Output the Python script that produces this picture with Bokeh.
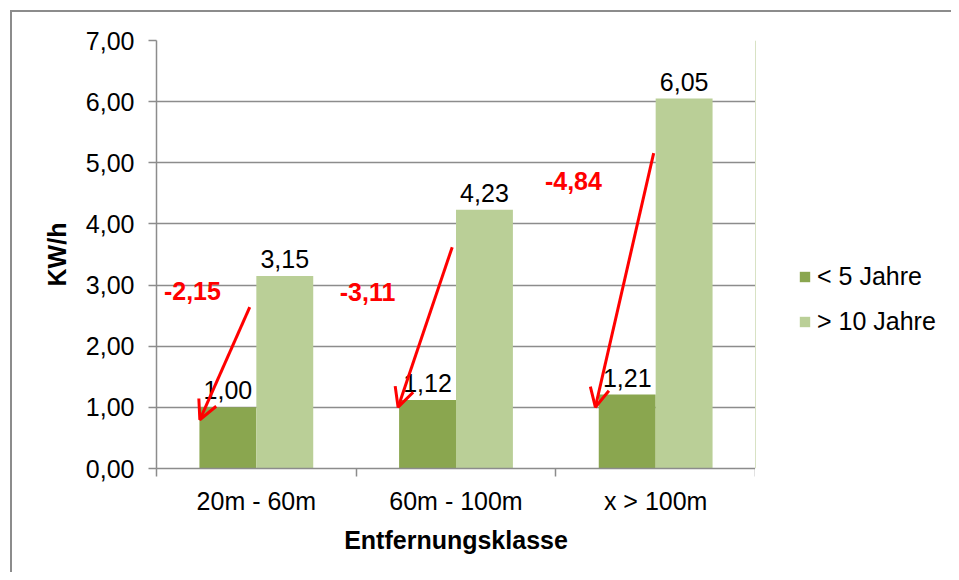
from bokeh.plotting import figure
from bokeh.layouts import row
from bokeh.models import (FixedTicker, CustomJSTickFormatter, Legend, LegendItem,
                          Arrow, OpenHead, ColumnDataSource, Range1d, InlineStyleSheet)
from bokeh.core.properties import value
from bokeh.embed import file_html
from bokeh.resources import INLINE

# ---------------- data ----------------
categories = ["20m - 60m", "60m - 100m", "x > 100m"]
series_names = ["< 5 Jahre", "> 10 Jahre"]
young = [1.00, 1.12, 1.21]      # < 5 Jahre
old = [3.15, 4.23, 6.05]        # > 10 Jahre
y_ticks = [0, 1, 2, 3, 4, 5, 6, 7]
x_title = "Entfernungsklasse"
y_title = "KW/h"

# red annotation arrows (data coordinates)
arrow_x_start = [0.467, 1.481, 2.490]
arrow_y_start = [2.638, 3.620, 5.157]
arrow_x_end = [0.217, 1.210, 2.198]
arrow_y_end = [0.797, 1.003, 1.003]
diff_x = [0.180, 1.057, 2.088]
diff_y = [2.895, 2.880, 4.694]

# ---------------- style ----------------
FONT = "Liberation Sans"
FS = "25px"
DARK = "#8aa64f"
LIGHT = "#bacf97"
GRID = "#8c8c8c"
W_MAIN, W_LEG, H = 755, 196, 572

def fmt(v):
    return f"{v:.2f}".replace(".", ",")

n = len(categories)
centers = [i + 0.5 for i in range(n)]
bw = 0.285

p = figure(width=W_MAIN, height=H, output_backend="svg", toolbar_location=None,
           x_range=Range1d(0, n), y_range=Range1d(0, 7),
           min_border_left=156, min_border_right=0, min_border_top=40,
           min_border_bottom=104)
p.outline_line_color = None
p.background_fill_color = "white"
p.border_fill_color = "white"

src_y = ColumnDataSource(dict(x=[c - bw / 2 for c in centers], top=young,
                              lab=[fmt(v) for v in young]))
src_o = ColumnDataSource(dict(x=[c + bw / 2 for c in centers], top=old,
                              lab=[fmt(v) for v in old]))

p.vbar(x="x", top="top", width=bw, source=src_y, fill_color=DARK, line_color=None)
p.vbar(x="x", top="top", width=bw, source=src_o, fill_color=LIGHT, line_color=None)

for s in (src_y, src_o):
    p.text(x="x", y="top", text="lab", source=s, text_align="center",
           text_baseline="alphabetic", y_offset=-17, text_font=value(FONT),
           text_font_size=FS, text_color="black")

# grid
p.xgrid.visible = False
p.ygrid.ticker = FixedTicker(ticks=y_ticks)
p.ygrid.grid_line_color = GRID
p.ygrid.grid_line_width = 1.5

# y axis
ya = p.yaxis[0]
ya.ticker = FixedTicker(ticks=y_ticks)
ya.formatter = CustomJSTickFormatter(code="return tick.toFixed(2).replace('.', ',');")
ya.axis_line_color = GRID
ya.axis_line_width = 1.5
ya.major_tick_line_color = GRID
ya.major_tick_line_width = 1.5
ya.major_tick_in = 0
ya.major_tick_out = 8
ya.minor_tick_line_color = None
ya.major_label_text_font = FONT
ya.major_label_text_font_size = FS
ya.major_label_text_color = "black"
ya.major_label_standoff = 14
ya.axis_label = y_title
ya.axis_label_text_font = FONT
ya.axis_label_text_font_size = FS
ya.axis_label_text_font_style = "bold"
ya.axis_label_text_color = "black"
ya.axis_label_standoff = 12

# x axis: labels at centers, ticks at boundaries (minor ticks)
xa = p.xaxis[0]
xa.ticker = FixedTicker(ticks=centers, minor_ticks=list(range(n + 1)))
xa.major_label_overrides = {c: categories[i] for i, c in enumerate(centers)}
xa.axis_line_color = GRID
xa.axis_line_width = 1.5
xa.major_tick_line_color = None
xa.minor_tick_line_color = GRID
xa.minor_tick_line_width = 1.5
xa.minor_tick_in = 0
xa.minor_tick_out = 8
xa.major_label_text_font = FONT
xa.major_label_text_font_size = FS
xa.major_label_text_color = "black"
xa.major_label_standoff = 10
xa.axis_label = x_title
xa.axis_label_text_font = FONT
xa.axis_label_text_font_size = FS
xa.axis_label_text_font_style = "bold"
xa.axis_label_text_color = "black"
xa.axis_label_standoff = 8

# red arrows and differences
for i in range(n):
    p.add_layout(Arrow(end=OpenHead(size=19, line_color="red", line_width=3),
                       x_start=arrow_x_start[i], y_start=arrow_y_start[i],
                       x_end=arrow_x_end[i], y_end=arrow_y_end[i],
                       line_color="red", line_width=3))
diff_src = ColumnDataSource(dict(x=diff_x, y=diff_y,
                                 t=[fmt(a - b) for a, b in zip(young, old)]))
p.text(x="x", y="y", text="t", source=diff_src, text_align="center",
       text_baseline="middle", text_font=value(FONT), text_font_size=FS,
       text_font_style="bold", text_color="red")

# ---- legend in a companion figure to the right ----
pl = figure(width=W_LEG, height=H, output_backend="svg", toolbar_location=None,
            x_axis_location=None, y_axis_location=None,
            x_range=Range1d(0, 1), y_range=Range1d(0, 1),
            min_border=0)
pl.outline_line_color = None
pl.grid.visible = False
pl.border_fill_color = "white"
# proxies for the legend swatches (placed outside the visible range)
l1 = pl.vbar(x=[-5], top=[1], width=0.1, fill_color=DARK, line_color=None)
l2 = pl.vbar(x=[-5], top=[1], width=0.1, fill_color=LIGHT, line_color=None)
legend = Legend(items=[LegendItem(label=series_names[0], renderers=[l1]),
                       LegendItem(label=series_names[1], renderers=[l2])],
                location=(43, 132), padding=0, margin=0, spacing=15,
                glyph_width=13, glyph_height=13, label_height=30,
                label_standoff=6, border_line_color=None,
                background_fill_alpha=0,
                label_text_font=FONT, label_text_font_size=FS,
                label_text_color="black")
pl.add_layout(legend)

# outer chart border (top and left edges visible in the reference)
p.stylesheets = [InlineStyleSheet(css="""
:host { position: relative; }
:host::after {
  content: ""; position: absolute; left: 10px; top: 10px; right: 0; bottom: 0;
  border-left: 2px solid #8c8c8c; border-top: 2px solid #8c8c8c;
  pointer-events: none; z-index: 10;
}
""")]
pl.stylesheets = [InlineStyleSheet(css="""
:host { position: relative; }
:host::after {
  content: ""; position: absolute; left: 0; top: 10px; right: 0; bottom: 0;
  border-top: 2px solid #8c8c8c;
  pointer-events: none; z-index: 10;
}
""")]

layout = row(p, pl, spacing=0)
open("out.html", "w").write(file_html(layout, INLINE))
